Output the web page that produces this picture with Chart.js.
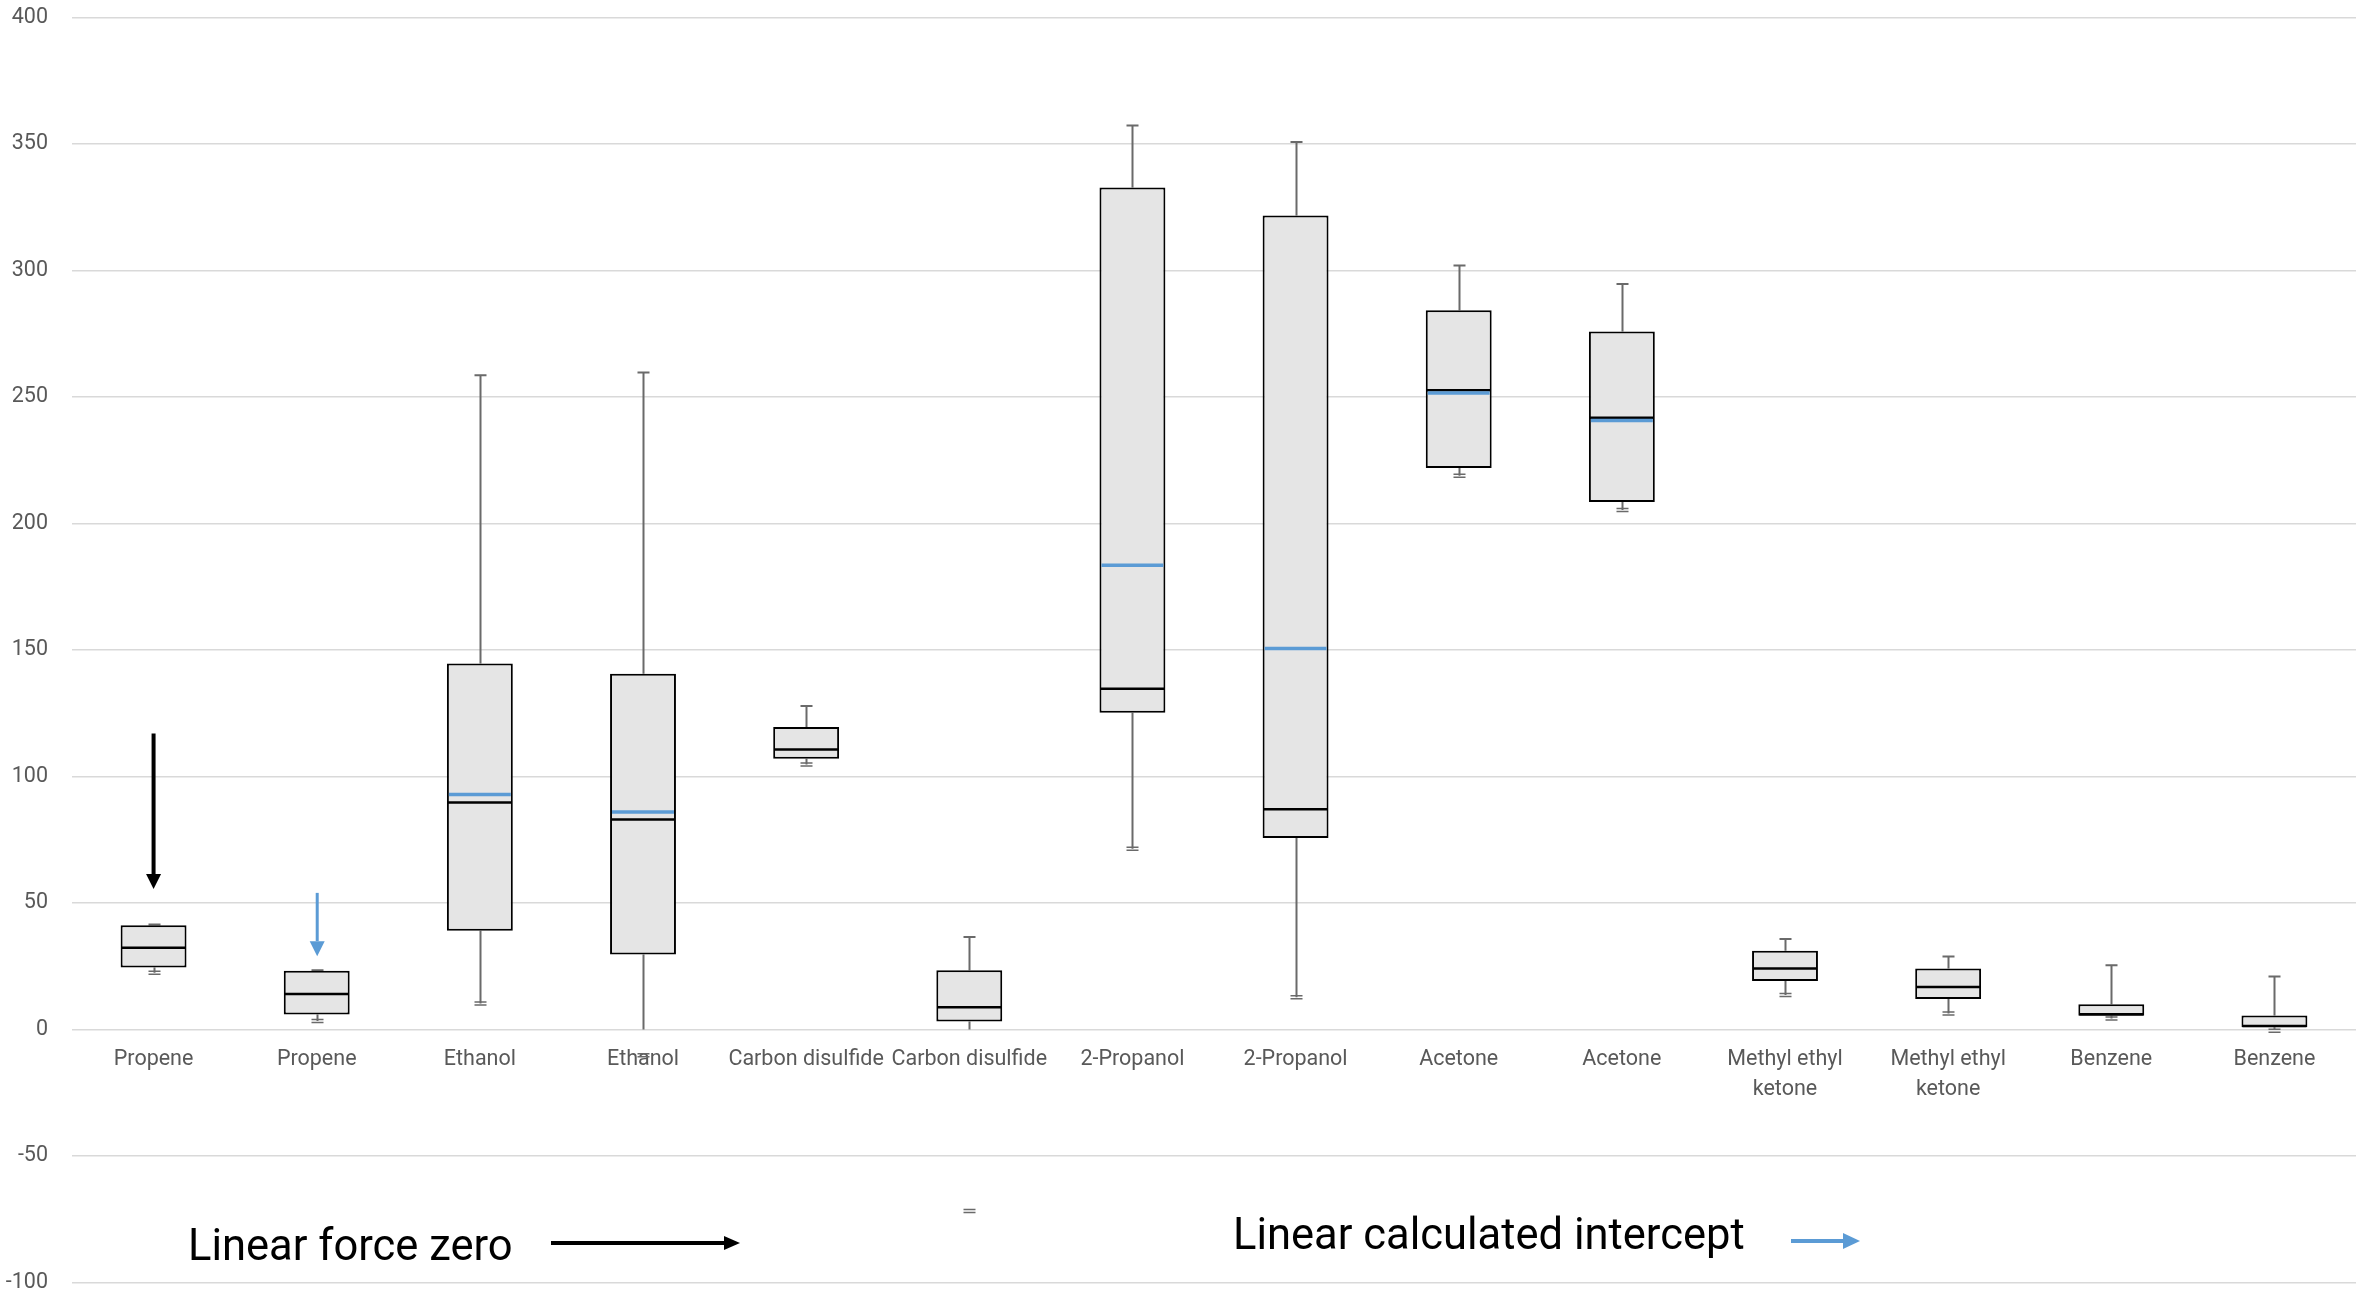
<!DOCTYPE html>
<html><head><meta charset="utf-8">
<script src="https://cdn.jsdelivr.net/npm/chart.js@4.4.1/dist/chart.umd.min.js"></script>
<style>html,body{margin:0;padding:0;background:#fff;}canvas{display:block;}</style>
</head><body>
<canvas id="c" width="2363" height="1296"></canvas>
<script>
// ---- data ----
const categories = ['Propene','Propene','Ethanol','Ethanol','Carbon disulfide','Carbon disulfide','2-Propanol','2-Propanol','Acetone','Acetone',['Methyl ethyl','ketone'],['Methyl ethyl','ketone'],'Benzene','Benzene'];
const whiskerLow  = [22.4, 3.4, 10.3, -10.2, 104.7, -71.7, 71.4, 12.7, 218.9, 205.3, 13.6, 6.3, 4.3, -0.5];
const quartile1   = [24.5, 5.9, 39.0, 29.6, 107.0, 3.2, 125.2, 75.7, 221.9, 208.5, 19.2, 12.1, 5.4, 0.9];
const medians     = [32.3, 14.0, 89.7, 83.0, 110.7, 8.8, 134.7, 87.1, 252.7, 241.8, 24.1, 16.8, 6.0, 1.4];
const quartile3   = [41.2, 23.2, 144.7, 140.6, 119.6, 23.4, 332.8, 321.7, 284.3, 275.9, 31.1, 24.1, 10.0, 5.5];
const whiskerHigh = [41.5, 23.4, 258.6, 259.7, 127.9, 36.6, 357.3, 350.8, 302.0, 294.7, 35.8, 28.9, 25.4, 20.9];
const means       = [null, null, 92.9, 86.0, null, null, 183.5, 150.6, 251.6, 240.7, null, null, null, null];
const yTickValues = [-100, -50, 0, 50, 100, 150, 200, 250, 300, 350, 400];
const legendLabels = ['Linear force zero', 'Linear calculated intercept'];

const FONT = 'Roboto, "Open Sans", sans-serif';
const GREY = '#6a6a6a';
const BLUE = '#5b9bd5';

function arrow(ctx, x1, y1, x2, y2, color, lw, headLen, headHalf) {
  const ang = Math.atan2(y2 - y1, x2 - x1);
  const bx = x2 - Math.cos(ang) * headLen, by = y2 - Math.sin(ang) * headLen;
  ctx.save();
  ctx.strokeStyle = color; ctx.fillStyle = color; ctx.lineWidth = lw;
  ctx.beginPath(); ctx.moveTo(x1, y1); ctx.lineTo(bx, by); ctx.stroke();
  ctx.beginPath();
  ctx.moveTo(x2, y2);
  ctx.lineTo(bx + Math.sin(ang) * headHalf, by - Math.cos(ang) * headHalf);
  ctx.lineTo(bx - Math.sin(ang) * headHalf, by + Math.cos(ang) * headHalf);
  ctx.closePath(); ctx.fill();
  ctx.restore();
}

const boxExtras = {
  id: 'boxExtras',
  beforeDatasetsDraw(chart) {
    const {ctx, scales: {x, y}} = chart;
    ctx.save();
    ctx.strokeStyle = GREY;
    categories.forEach((c, i) => {
      const px = Math.round(x.getPixelForValue(i)) + 0.5;
      const yHi = y.getPixelForValue(whiskerHigh[i]);
      const yQ3 = y.getPixelForValue(quartile3[i]);
      const yQ1 = y.getPixelForValue(quartile1[i]);
      const yLo = y.getPixelForValue(whiskerLow[i]);
      const yStop = y.getPixelForValue(Math.max(whiskerLow[i], 0));
      ctx.lineWidth = 2;
      ctx.beginPath();
      ctx.moveTo(px, yQ3); ctx.lineTo(px, yHi);
      ctx.moveTo(px, yQ1); ctx.lineTo(px, yStop);
      ctx.moveTo(px - 6, yHi); ctx.lineTo(px + 6, yHi);
      ctx.stroke();
      ctx.lineWidth = 1.5;
      ctx.beginPath();
      ctx.moveTo(px - 6, yLo - 1.5); ctx.lineTo(px + 6, yLo - 1.5);
      ctx.moveTo(px - 6, yLo + 1.5); ctx.lineTo(px + 6, yLo + 1.5);
      ctx.stroke();
    });
    ctx.restore();
  },
  afterDatasetsDraw(chart) {
    const {ctx, scales: {x, y}} = chart;
    const meta = chart.getDatasetMeta(0);
    ctx.save();
    meta.data.forEach((el, i) => {
      const l = el.x - el.width / 2 + 1, r = el.x + el.width / 2 - 1;
      const ym = y.getPixelForValue(medians[i]);
      ctx.strokeStyle = '#000'; ctx.lineWidth = 2.5;
      ctx.beginPath(); ctx.moveTo(l, ym); ctx.lineTo(r, ym); ctx.stroke();
      if (means[i] !== null) {
        const ya = y.getPixelForValue(means[i]);
        ctx.strokeStyle = BLUE; ctx.lineWidth = 3.5;
        ctx.beginPath(); ctx.moveTo(l + 1, ya); ctx.lineTo(r - 1, ya); ctx.stroke();
      }
    });
    // pointer arrows above the first two boxes
    const x0 = x.getPixelForValue(0), x1 = x.getPixelForValue(1);
    arrow(ctx, x0, y.getPixelForValue(117), x0, y.getPixelForValue(55.5), '#000', 4, 15, 7.5);
    arrow(ctx, x1 + 0.5, y.getPixelForValue(54), x1 + 0.5, y.getPixelForValue(29), BLUE, 3, 15, 7.5);
    // legend notes
    ctx.fillStyle = '#000';
    ctx.font = '43.5px ' + FONT;
    ctx.textBaseline = 'alphabetic';
    ctx.textAlign = 'left';
    ctx.fillText(legendLabels[0], 188, 1260);
    ctx.fillText(legendLabels[1], 1233, 1249);
    arrow(ctx, 551, 1243, 740, 1243, '#000', 4, 16, 7);
    arrow(ctx, 1791, 1241, 1860, 1241, BLUE, 4, 17, 8);
    ctx.restore();
  }
};

new Chart(document.getElementById('c'), {
  type: 'bar',
  data: {
    labels: categories,
    datasets: [{
      data: categories.map((c, i) => [quartile1[i], quartile3[i]]),
      backgroundColor: '#e5e5e5',
      borderColor: '#000',
      borderWidth: 2,
      borderSkipped: false,
      barPercentage: 0.404,
      categoryPercentage: 1
    }]
  },
  options: {
    responsive: false,
    animation: false,
    devicePixelRatio: 1,
    layout: {padding: {top: 17.5, bottom: 13.5, right: 7, left: 0}},
    plugins: {legend: {display: false}, tooltip: {enabled: false}},
    scales: {
      x: {
        position: {y: 0},
        grid: {display: false, drawTicks: false},
        border: {display: false},
        ticks: {
          autoSkip: false, maxRotation: 0, minRotation: 0,
          color: '#595959', padding: 15,
          font: {family: FONT, size: 21.5, lineHeight: 1.4}
        }
      },
      y: {
        min: -100, max: 400,
        afterBuildTicks: s => { s.ticks = yTickValues.map(v => ({value: v})); },
        afterFit: s => { s.width = 72; s.paddingTop = 0; s.paddingBottom = 0; },
        grid: {color: '#d9d9d9', lineWidth: 1.5, drawTicks: false},
        border: {display: false},
        ticks: {color: '#595959', padding: 24, font: {family: FONT, size: 21.5}}
      }
    }
  },
  plugins: [boxExtras]
});
</script>
</body></html>
